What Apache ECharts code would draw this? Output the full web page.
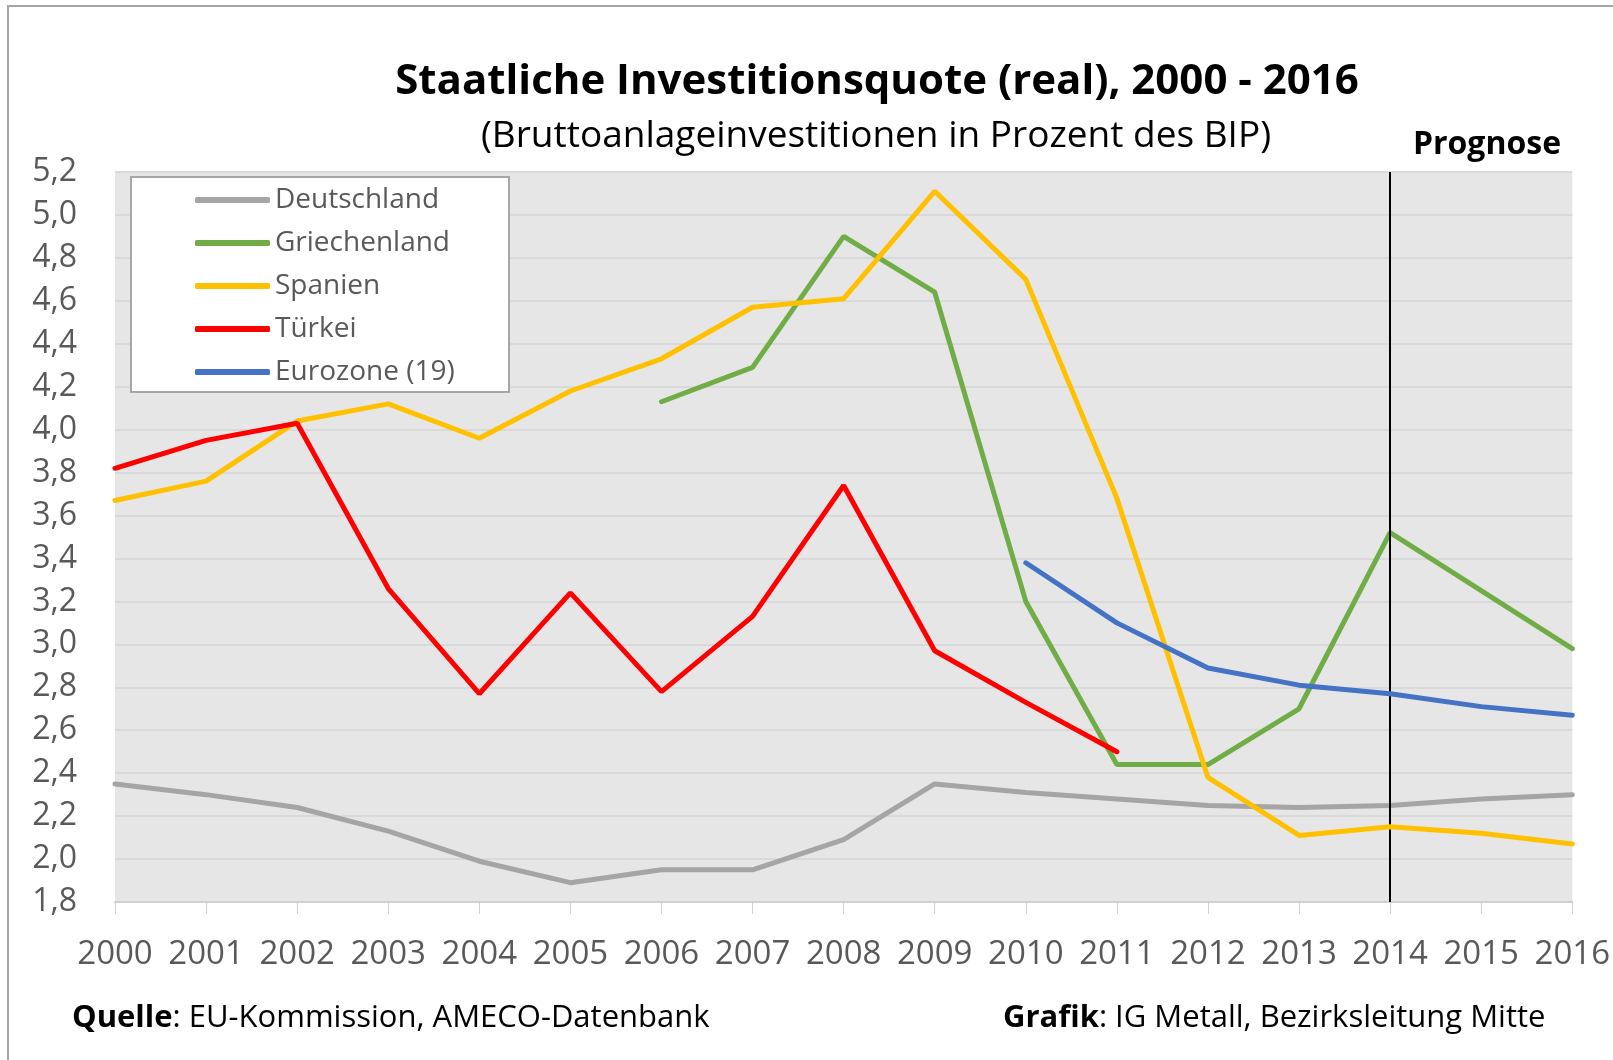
<!DOCTYPE html>
<html>
<head>
<meta charset="utf-8">
<script src="https://cdn.jsdelivr.net/npm/echarts@6/dist/echarts.min.js"></script>
<style>html,body{margin:0;padding:0;background:#fff}#c{width:1613px;height:1060px}</style>
</head>
<body>
<div id="c"></div>
<script>
const years = ['2000','2001','2002','2003','2004','2005','2006','2007','2008','2009','2010','2011','2012','2013','2014','2015','2016'];
const deutschland = [2.35,2.30,2.24,2.13,1.99,1.89,1.95,1.95,2.09,2.35,2.31,2.28,2.25,2.24,2.25,2.28,2.30];
const griechenland = [null,null,null,null,null,null,4.13,4.29,4.90,4.64,3.20,2.44,2.44,2.70,3.52,3.25,2.98];
const spanien = [3.67,3.76,4.04,4.12,3.96,4.18,4.33,4.57,4.61,5.11,4.70,3.68,2.38,2.11,2.15,2.12,2.07];
const tuerkei = [3.82,3.95,4.03,3.26,2.77,3.24,2.78,3.13,3.74,2.97,2.73,2.50,null,null,null,null,null];
const eurozone = [null,null,null,null,null,null,null,null,null,null,3.38,3.10,2.89,2.81,2.77,2.71,2.67];
const seriesNames = ['Deutschland','Griechenland','Spanien','Türkei','Eurozone (19)'];
const seriesColors = ['#a5a5a5','#70ad47','#ffc000','#ff0000','#4472c4'];
const forecastYear = '2014';

const FONT = '"Open Sans", sans-serif';
const chart = echarts.init(document.getElementById('c'));
const dataSets = [deutschland, griechenland, spanien, tuerkei, eurozone];
const series = dataSets.map((d, i) => ({
  name: seriesNames[i],
  type: 'line',
  data: d,
  symbol: 'none',
  lineStyle: { width: 5, color: seriesColors[i], cap: 'round' },
  itemStyle: { color: seriesColors[i] },
  connectNulls: false,
  z: 3 + i
}));
series[4].markLine = {
  silent: true,
  symbol: 'none',
  label: { show: false },
  lineStyle: { color: '#000', width: 2, type: 'solid' },
  data: [{ xAxis: forecastYear }]
};

chart.setOption({
  animation: false,
  backgroundColor: '#fff',
  grid: { left: 115, right: 39, top: 172, bottom: 158, show: true, backgroundColor: '#e6e6e6', borderWidth: 0 },
  xAxis: {
    type: 'category', data: years, boundaryGap: false,
    axisLine: { lineStyle: { color: '#d0d0d0', width: 2 } },
    axisTick: { show: true, length: 12, interval: 0, lineStyle: { color: '#d0d0d0' } },
    axisLabel: { color: '#595959', fontSize: 33, fontFamily: FONT, margin: 36, interval: 0, hideOverlap: false },
    splitLine: { show: false }
  },
  yAxis: {
    type: 'value', min: 1.8, max: 5.2, interval: 0.2,
    axisLine: { show: false }, axisTick: { show: false },
    axisLabel: { color: '#595959', fontSize: 32, fontFamily: FONT, margin: 38,
      formatter: v => v.toFixed(1).replace('.', ',') },
    splitLine: { lineStyle: { color: '#d9d9d9', width: 2 } }
  },
  legend: {
    data: seriesNames, orient: 'vertical', left: 190, top: 181,
    itemWidth: 75, itemHeight: 6, itemGap: 15, icon: 'roundRect',
    textStyle: { color: '#595959', fontSize: 28, fontFamily: FONT, padding: [0,0,0,0] }
  },
  graphic: [
    { type: 'rect', shape: { x: 8, y: 6, width: 1700, height: 1200 }, style: { fill: 'none', stroke: '#a6a6a6', lineWidth: 2 }, z: 0, silent: true },
    { type: 'rect', shape: { x: 131, y: 177, width: 378, height: 215 }, style: { fill: '#fff', stroke: '#a6a6a6', lineWidth: 2 }, z: 1 },
    { type: 'text', x: 877, y: 82, style: { text: 'Staatliche Investitionsquote (real), 2000 - 2016', fill: '#000', font: 'bold 42px ' + FONT, textAlign: 'center', textVerticalAlign: 'middle' } },
    { type: 'text', x: 876, y: 136, style: { text: '(Bruttoanlageinvestitionen in Prozent des BIP)', fill: '#000', font: '37px ' + FONT, textAlign: 'center', textVerticalAlign: 'middle' } },
    { type: 'text', x: 1487, y: 145, style: { text: 'Prognose', fill: '#000', font: 'bold 32px ' + FONT, textAlign: 'center', textVerticalAlign: 'middle' } },
    { type: 'text', x: 72, y: 1018, style: { text: '{b|Quelle}: EU-Kommission, AMECO-Datenbank', fill: '#000', font: '31px ' + FONT, textVerticalAlign: 'middle', rich: { b: { fontWeight: 'bold', fontSize: 31, fontFamily: FONT, fill: '#000' } } } },
    { type: 'text', x: 1003, y: 1018, style: { text: '{b|Grafik}: IG Metall, Bezirksleitung Mitte', fill: '#000', font: '31px ' + FONT, textVerticalAlign: 'middle', rich: { b: { fontWeight: 'bold', fontSize: 31, fontFamily: FONT, fill: '#000' } } } }
  ],
  series: series
});
</script>
</body>
</html>
